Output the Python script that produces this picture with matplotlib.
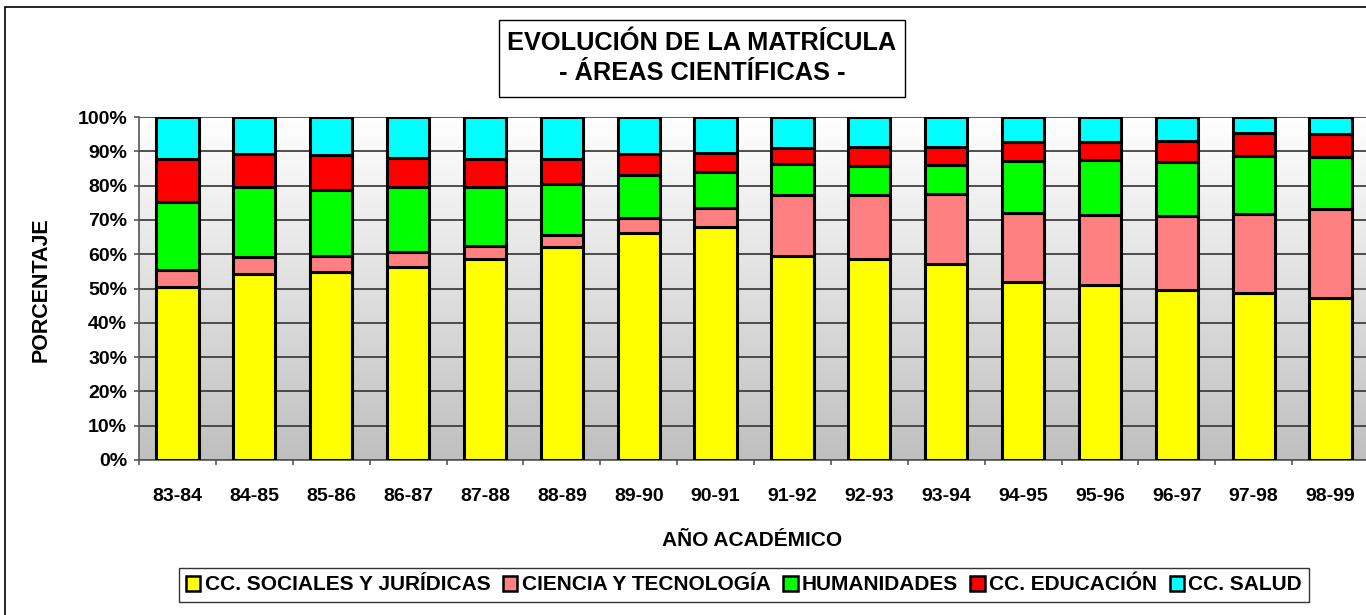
import matplotlib
matplotlib.use("Agg")
import matplotlib.pyplot as plt
import numpy as np
from matplotlib.patches import Rectangle, Patch

plt.rcParams['font.family'] = ['Liberation Sans', 'DejaVu Sans']

categories = ["83-84", "84-85", "85-86", "86-87", "87-88", "88-89", "89-90", "90-91",
              "91-92", "92-93", "93-94", "94-95", "95-96", "96-97", "97-98", "98-99"]
sociales = [50.4, 54.3, 54.8, 56.2, 58.6, 62.1, 66.3, 68.0, 59.6, 58.5, 57.2, 51.9, 50.9, 49.5, 48.8, 47.1]
ciencia = [5.0, 5.0, 4.8, 4.4, 3.9, 3.4, 4.2, 5.4, 17.8, 18.9, 20.3, 20.1, 20.4, 21.5, 23.0, 26.1]
humanidades = [19.7, 20.3, 19.1, 19.0, 17.1, 15.0, 12.7, 10.7, 8.9, 8.4, 8.4, 15.3, 16.3, 16.0, 16.9, 15.0]
educacion = [12.8, 9.7, 10.1, 8.4, 8.1, 7.2, 5.9, 5.4, 4.7, 5.5, 5.4, 5.3, 5.2, 5.9, 6.5, 6.7]
salud = [12.1, 10.7, 11.2, 12.0, 12.3, 12.3, 10.9, 10.5, 9.0, 8.7, 8.7, 7.4, 7.2, 7.1, 4.8, 5.1]

series_names = ["CC. SOCIALES Y JURÍDICAS", "CIENCIA Y TECNOLOGÍA", "HUMANIDADES",
                "CC. EDUCACIÓN", "CC. SALUD"]
series_colors = ["#ffff00", "#ff8080", "#00ff00", "#ff0000", "#00ffff"]
series_values = [sociales, ciencia, humanidades, educacion, salud]

fig = plt.figure(figsize=(13.66, 6.15), dpi=100)
ax = fig.add_axes([139 / 1366, 1 - 460 / 615, 1230 / 1366, 343 / 615])

# normalise to percentages
vals = np.array(series_values, dtype=float)
vals = vals / vals.sum(axis=0) * 100

x = np.arange(len(categories))
ax.set_xlim(-0.5, len(categories) - 0.5)
ax.set_ylim(0, 100)

# gradient background
grad = np.linspace(1.0, 0.0, 256).reshape(-1, 1)
top = np.array([1.0, 1.0, 1.0])
bot = np.array([0.75, 0.75, 0.75])
img = top * grad[..., None] + bot * (1 - grad[..., None])
img = img.reshape(256, 1, 3)
ax.imshow(img, aspect='auto', extent=(-0.5, len(categories) - 0.5, 0, 100),
          origin='upper', zorder=0)

ax.yaxis.grid(True, color='#333333', linewidth=1.2, zorder=1)
ax.set_axisbelow(True)

bottom = np.zeros(len(categories))
for v, c in zip(vals, series_colors):
    ax.bar(x, v, width=0.55, bottom=bottom, color=c, edgecolor='black',
           linewidth=2.2, zorder=3)
    bottom += v

for s in ['top', 'right']:
    ax.spines[s].set_visible(False)
ax.spines['left'].set_color('#555555')
ax.spines['bottom'].set_color('#555555')
ax.spines['left'].set_linewidth(1.2)
ax.spines['bottom'].set_linewidth(1.2)

ax.set_yticks(np.arange(0, 101, 10))
ax.set_yticklabels([f"{v}%" for v in range(0, 101, 10)], fontsize=14, fontweight='bold')
ax.tick_params(axis='y', length=3.5, width=1.2, color='#555555', pad=5)

ax.set_xticks(x)
ax.set_xticklabels(categories, fontsize=14, fontweight='bold')
ax.set_xticks(np.arange(-0.5, len(categories), 1), minor=True)
ax.tick_params(axis='x', which='major', length=0, pad=20)
ax.tick_params(axis='x', which='minor', length=3.5, width=1.2, color='#555555')

fig.text(752 / 1366, 1 - 541 / 615, "AÑO ACADÉMICO", ha='center', va='center',
         fontsize=15, fontweight='bold')
fig.text(41 / 1366, 1 - 290 / 615, "PORCENTAJE", ha='center', va='center',
         rotation=90, fontsize=15.5, fontweight='bold')

# title box
fig.patches.append(Rectangle((499 / 1366, 1 - 97 / 615), 406 / 1366, 77 / 615,
                             transform=fig.transFigure, facecolor='white',
                             edgecolor='black', linewidth=1.0, zorder=5))
fig.text(702 / 1366, 1 - 58 / 615, "EVOLUCIÓN DE LA MATRÍCULA\n- ÁREAS CIENTÍFICAS -",
         ha='center', va='center', fontsize=18.3, fontweight='bold',
         linespacing=1.3, zorder=6)

# outer chart border
fig.patches.append(Rectangle((5 / 1366, -0.1), 1.1, 1 - 7 / 615 + 0.1,
                             transform=fig.transFigure, facecolor='none',
                             edgecolor='black', linewidth=1.2, zorder=4))

handles = [Patch(facecolor=c, edgecolor='black', linewidth=1.8) for c in series_colors]
leg = fig.legend(handles, series_names, loc='center', ncol=5,
                 bbox_to_anchor=(744 / 1366, 1 - 585 / 615),
                 prop={'weight': 'bold', 'size': 15}, frameon=True, fancybox=False,
                 edgecolor='black', handlelength=0.7, handleheight=0.7,
                 handletextpad=0.2, columnspacing=0.6, borderpad=0.35,
                 borderaxespad=0)
leg.get_frame().set_linewidth(1.0)

fig.savefig("out.png", dpi=100)
